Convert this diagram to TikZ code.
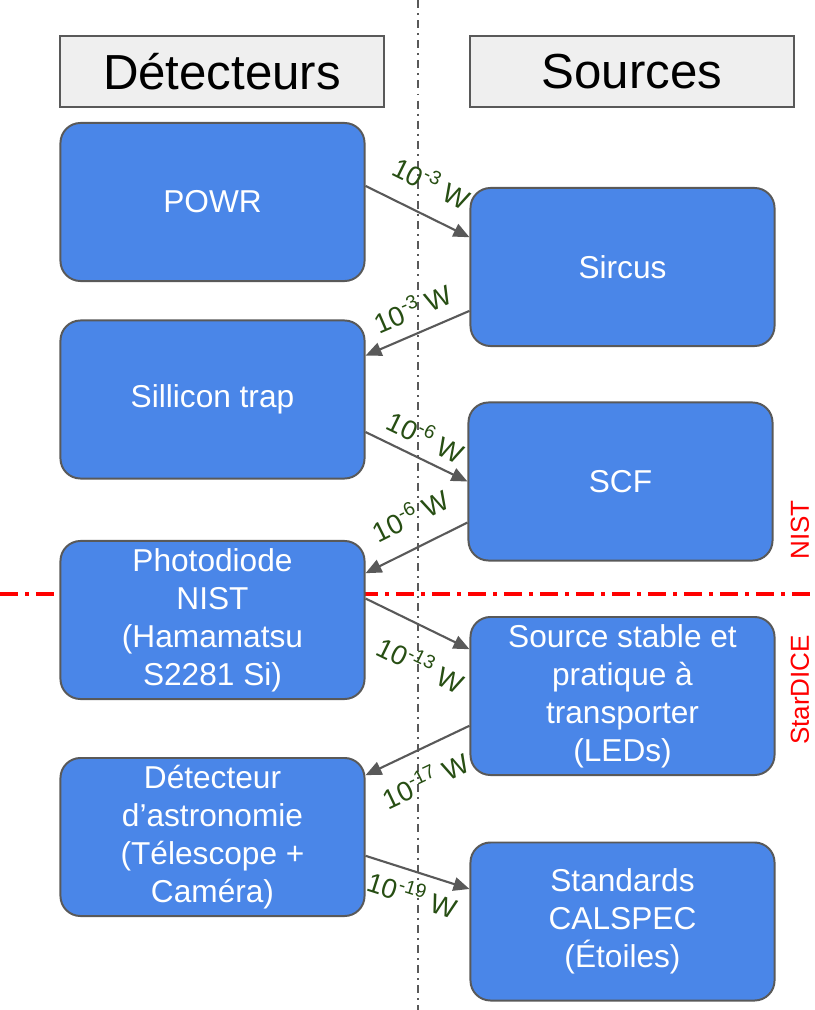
\documentclass[tikz,border=0pt]{standalone}
\usepackage{fontspec}
\setmainfont{Liberation Sans}
\usetikzlibrary{arrows.meta, positioning}
\definecolor{slideblue}{HTML}{4A86E8}
\definecolor{boxline}{HTML}{595959}
\definecolor{headfill}{HTML}{EFEFEF}
\definecolor{pwgreen}{HTML}{274E13}
\tikzset{
  box/.style={draw=boxline, line width=1.4pt, align=center},
  blk/.style={box, fill=slideblue, text=white, rounded corners=0.5cm,
    minimum width=7.6cm, minimum height=3.95cm, font=\fontsize{22.5}{27}\selectfont},
  head/.style={box, fill=headfill, minimum width=8.1cm, minimum height=1.78cm,
    font=\fontsize{35}{40}\selectfont},
  arr/.style={-{Triangle[length=4mm, width=3.4mm]}, draw=boxline, line width=1.5pt},
  pw/.style={sloped, text=pwgreen, font=\fontsize{19.5}{22}\selectfont, inner sep=2pt},
  side/.style={rotate=90, text=red, font=\fontsize{18.5}{20}\selectfont},
}

\begin{document}
\begin{tikzpicture}[x=0.025cm, y=-0.025cm]
  \useasboundingbox (0,0) rectangle (814,1010);

  % separations
  \coordinate (vtop) at (418,0);
  \coordinate (vbot) at (418,1010);
  \coordinate (rleft) at (0,594);
  \coordinate (rright) at (814,594);
  \draw[boxline, line width=1.4pt, dash pattern=on 5.7pt off 3.6pt on 1.4pt off 3.6pt] (vtop) -- (vbot);
  \draw[red, line width=3pt, dash pattern=on 12.8pt off 5pt on 2.8pt off 5pt] (rleft) -- (rright);

  % headers
  \node[head] (hdet) at (222,71.5) {Détecteurs};
  \node[head] (hsrc) at (632,71.5) {Sources};

  % detectors
  \node[blk] (powr) at (212.5,202) {POWR};
  \node[blk] (trap) at (212.5,399.5) {Sillicon trap};
  \node[blk] (pdnist) at (212.5,620) {Photodiode\\NIST\\(Hamamatsu\\S2281 Si)};
  \node[blk] (astro) at (212.5,837) {Détecteur\\d’astronomie\\(Télescope +\\Caméra)};

  % sources
  \node[blk] (sircus) at (622.5,267) {Sircus};
  \node[blk] (scf) at (620.5,481.5) {SCF};
  \node[blk] (leds) at (622.5,696) {Source stable et\\pratique à\\transporter\\(LEDs)};
  \node[blk] (calspec) at (622.5,921.5) {Standards\\CALSPEC\\(Étoiles)};

  % chain
  \draw[arr] (powr.6) -- node[pw, above=12pt] {10\textsuperscript{-3} W} (sircus.169);
  \draw[arr] (sircus.196) -- node[pw, pos=0.45, above=7pt] {10\textsuperscript{-3} W} (trap.16);
  \draw[arr] (trap.-12) -- node[pw, above=5pt] {10\textsuperscript{-6} W} (scf.180);
  \draw[arr] (scf.195) -- node[pw, pos=0.42, above=12pt] {10\textsuperscript{-6} W} (pdnist.17);
  \draw[arr] (pdnist.8) -- node[pw, pos=0.68, below=13pt] {10\textsuperscript{-13} W} (leds.163);
  \draw[arr] (leds.191) -- node[pw, pos=0.55, below=10pt] {10\textsuperscript{-17} W} (astro.22);
  \draw[arr] (astro.-7) -- node[pw, pos=0.52, below=4pt] {10\textsuperscript{-19} W} (calspec.168);

  % regimes
  \node[side] (nist) at (800,530) {NIST};
  \node[side] (stardice) at (800,690) {StarDICE};
\end{tikzpicture}
\end{document}
